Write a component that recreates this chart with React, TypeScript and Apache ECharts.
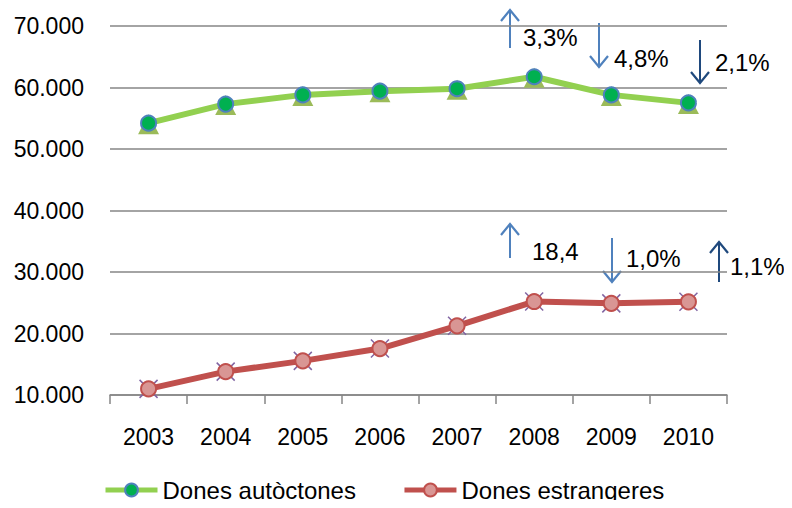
import React, { useEffect, useRef } from "react";
import * as echarts from "echarts";

const years = ["2003", "2004", "2005", "2006", "2007", "2008", "2009", "2010"];
const autoctones = [54200, 57300, 58800, 59400, 59800, 61750, 58800, 57500];
const estrangeres = [11000, 13800, 15550, 17550, 21250, 25200, 24900, 25150];
const yTicks = { min: 10000, max: 70000, interval: 10000 };

// annotations: [x, yStart, yEnd, color, label, labelX, labelY]
const arrows: [number, number, number, string, string, number, number][] = [
  [510, 48, 10, "#4F81BD", "3,3%", 523, 37],
  [599, 23, 67, "#4F81BD", "4,8%", 614, 58],
  [700, 40, 83, "#1F497D", "2,1%", 715, 62],
  [510, 258, 224, "#4F81BD", "18,4", 532, 251],
  [612, 238, 282, "#4F81BD", "1,0%", 626, 258],
  [719, 282, 242, "#1F497D", "1,1%", 730, 266],
];

const FONT = "'Liberation Sans', Arial, sans-serif";

function buildGraphics() {
  const els: any[] = [];
  arrows.forEach(([x, y1, y2, color, label, lx, ly]) => {
    const dir = y2 < y1 ? 1 : -1;
    els.push({
      type: "line",
      shape: { x1: x, y1, x2: x, y2 },
      style: { stroke: color, lineWidth: 2 },
    });
    els.push({
      type: "polyline",
      shape: { points: [[x - 9, y2 + dir * 11], [x, y2], [x + 9, y2 + dir * 11]] },
      style: { stroke: color, lineWidth: 2.2, fill: null },
    });
    els.push({
      type: "text",
      x: lx,
      y: ly,
      style: {
        text: label,
        fontSize: 24,
        fontFamily: FONT,
        fill: "#000",
        verticalAlign: "middle",
        align: "left",
      },
    });
  });
  return els;
}

export default function App() {
  const ref = useRef<HTMLDivElement>(null);
  useEffect(() => {
    if (!ref.current) return;
    const chart = echarts.init(ref.current, undefined, { renderer: "svg" });
    const xPath = "path://M0,0L10,10M10,0L0,10";
    chart.setOption({
      animation: false,
      backgroundColor: "#fff",
      grid: { left: 110, right: 65, top: 26, bottom: 113, containLabel: false },
      legend: {
        data: ["Dones autòctones", "Dones estrangeres"],
        top: 473,
        left: 98,
        itemWidth: 52,
        itemHeight: 16,
        itemGap: 46,
        lineStyle: { width: 5 },
        textStyle: { fontSize: 24, fontFamily: FONT, color: "#000" },
      },
      xAxis: {
        type: "category",
        data: years,
        boundaryGap: true,
        axisLine: { lineStyle: { color: "#868686", width: 1.5 } },
        axisTick: { show: true, interval: 0, length: 9, lineStyle: { color: "#868686", width: 1.5 } },
        axisLabel: { fontSize: 23, fontFamily: FONT, color: "#000", margin: 30 },
      },
      yAxis: {
        type: "value",
        min: yTicks.min,
        max: yTicks.max,
        interval: yTicks.interval,
        axisLine: { show: false },
        axisTick: { show: false },
        splitLine: { lineStyle: { color: "#868686", width: 1.5 } },
        axisLabel: {
          fontSize: 23,
          fontFamily: FONT,
          color: "#000",
          margin: 26,
          formatter: (v: number) => v.toLocaleString("de-DE"),
        },
      },
      series: [
        {
          name: "aut-tri",
          type: "line",
          data: autoctones,
          lineStyle: { opacity: 0 },
          symbol: "triangle",
          symbolSize: [21, 20],
          symbolOffset: [0, 1],
          itemStyle: { color: "#9BBB59" },
          silent: true,
          z: 1,
        },
        {
          name: "est-x",
          type: "line",
          data: estrangeres,
          lineStyle: { opacity: 0 },
          symbol: xPath,
          symbolSize: 18,
          itemStyle: { color: "none", borderColor: "#8064A2", borderWidth: 1.5 },
          silent: true,
          z: 1,
        },
        {
          name: "Dones autòctones",
          type: "line",
          data: autoctones,
          lineStyle: { color: "#92D050", width: 6 },
          symbol: "circle",
          symbolSize: 15,
          itemStyle: { color: "#00B050", borderColor: "#4F81BD", borderWidth: 2 },
          z: 3,
        },
        {
          name: "Dones estrangeres",
          type: "line",
          data: estrangeres,
          lineStyle: { color: "#C0504D", width: 6 },
          symbol: "circle",
          symbolSize: 15,
          itemStyle: { color: "#D99694", borderColor: "#C0504D", borderWidth: 2 },
          z: 3,
        },
      ],
      graphic: buildGraphics(),
    });
    return () => chart.dispose();
  }, []);
  return <div ref={ref} style={{ width: 792, height: 508, margin: -8 }} />;
}
